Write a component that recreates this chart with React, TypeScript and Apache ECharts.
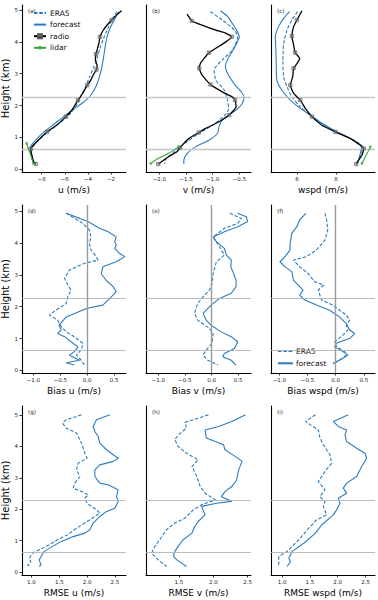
import React, { useEffect, useRef } from 'react';
import * as echarts from 'echarts';

// ---------------- DATA ----------------
const heightTicks = [0, 1, 2, 3, 4, 5];
const refHeights = [2.27, 0.64];

const uTicks = [-8, -6, -4, -2];
const vTicks = [-2.0, -1.5, -1.0, -0.5];
const wTicks = [6, 8];
const biasTicks = [-1.0, -0.5, 0.0, 0.5];
const rmseUTicks = [1.0, 1.5, 2.0, 2.5];
const rmseVTicks = [1.5, 2.0, 2.5];
const rmseWTicks = [1.0, 1.5, 2.0, 2.5];

// (a) u profiles  [value, height km]
const era5U = [[-1.5, 4.95], [-1.9, 4.7], [-2.3, 4.4], [-2.65, 4.1], [-2.95, 3.8], [-3.2, 3.5], [-3.5, 3.2], [-3.85, 2.9], [-4.2, 2.6], [-4.6, 2.3], [-5.0, 2.0], [-5.5, 1.75], [-6.1, 1.55], [-6.8, 1.35], [-7.6, 1.12], [-8.3, 0.9], [-8.75, 0.7], [-8.9, 0.55], [-8.85, 0.35], [-8.7, 0.16]];
const fcU = [[-1.35, 4.95], [-1.7, 4.7], [-2.05, 4.45], [-2.35, 4.15], [-2.5, 3.85], [-2.65, 3.5], [-2.8, 3.2], [-3.0, 2.9], [-3.3, 2.6], [-3.8, 2.3], [-4.5, 2.07], [-5.3, 1.87], [-6.1, 1.65], [-6.9, 1.42], [-7.8, 1.17], [-8.55, 0.9], [-8.95, 0.7], [-8.95, 0.5], [-8.8, 0.3], [-8.7, 0.16]];
const radioU = [[-1.08, 4.98], [-1.5, 4.85], [-1.94, 4.69], [-2.4, 4.5], [-2.7, 4.35], [-2.95, 4.16], [-3.05, 3.95], [-3.2, 3.75], [-3.3, 3.62], [-3.35, 3.45], [-3.2, 3.25], [-3.25, 3.13], [-3.5, 2.98], [-3.75, 2.8], [-4.05, 2.64], [-4.45, 2.38], [-4.85, 2.17], [-5.2, 1.96], [-5.55, 1.78], [-5.9, 1.65], [-6.7, 1.38], [-7.55, 1.17], [-8.3, 0.91], [-8.8, 0.72], [-8.95, 0.63], [-8.85, 0.45], [-8.7, 0.25], [-8.5, 0.16]];
const radioUMarks = [2, 5, 8, 11, 14, 16, 19, 21, 24, 27];
const lidarU = [[-9.3, 0.81], [-9.15, 0.65], [-9.0, 0.5], [-8.85, 0.33], [-8.7, 0.17]];

// (b) v profiles
const era5V = [[-1.04, 4.95], [-0.82, 4.69], [-0.59, 4.37], [-0.53, 4.16], [-0.63, 3.74], [-0.82, 3.43], [-0.97, 3.11], [-0.94, 2.8], [-0.78, 2.48], [-0.72, 2.17], [-0.7, 1.9], [-0.78, 1.68], [-1.0, 1.38], [-1.26, 1.12], [-1.48, 0.86], [-1.61, 0.7], [-1.75, 0.5], [-1.88, 0.3], [-1.9, 0.16]];
const fcV = [[-0.85, 4.98], [-0.72, 4.8], [-0.63, 4.58], [-0.55, 4.37], [-0.5, 4.16], [-0.55, 3.95], [-0.63, 3.7], [-0.72, 3.45], [-0.76, 3.22], [-0.7, 2.95], [-0.58, 2.65], [-0.45, 2.4], [-0.41, 2.25], [-0.45, 2.05], [-0.56, 1.86], [-0.72, 1.68], [-0.83, 1.52], [-0.88, 1.33], [-0.91, 1.12], [-1.07, 0.91], [-1.32, 0.7], [-1.48, 0.49], [-1.54, 0.28], [-1.54, 0.16]];
const radioV = [[-1.48, 4.87], [-1.39, 4.66], [-1.2, 4.53], [-0.94, 4.37], [-0.75, 4.27], [-0.64, 4.16], [-0.75, 4.0], [-0.94, 3.8], [-1.07, 3.66], [-1.16, 3.48], [-1.23, 3.32], [-1.25, 3.17], [-1.2, 2.96], [-1.04, 2.66], [-0.82, 2.43], [-0.63, 2.27], [-0.58, 2.17], [-0.56, 1.96], [-0.69, 1.7], [-0.88, 1.49], [-1.13, 1.28], [-1.26, 1.15], [-1.45, 0.96], [-1.54, 0.81], [-1.61, 0.68], [-1.67, 0.55], [-1.83, 0.39], [-1.96, 0.23], [-2.02, 0.16]];
const radioVMarks = [1, 5, 8, 11, 13, 16, 18, 21, 24, 28];
const lidarV = [[-1.64, 0.7], [-1.83, 0.49], [-2.02, 0.34], [-2.16, 0.18]];

// (c) wind speed profiles
const era5W = [[6.03, 4.95], [5.74, 4.69], [5.49, 4.37], [5.32, 3.95], [5.28, 3.43], [5.32, 2.9], [5.49, 2.59], [5.74, 2.27], [6.17, 1.96], [6.7, 1.68], [7.3, 1.42], [8.0, 1.18], [8.75, 0.96], [9.3, 0.72], [9.28, 0.5], [9.15, 0.3], [9.05, 0.17]];
const fcW = [[5.62, 4.95], [5.32, 4.74], [5.06, 4.48], [4.89, 4.16], [4.92, 3.74], [4.94, 3.22], [4.97, 2.8], [5.23, 2.48], [5.66, 2.17], [6.17, 1.91], [6.68, 1.7], [7.28, 1.44], [8.05, 1.17], [8.74, 0.96], [9.33, 0.7], [9.25, 0.49], [9.11, 0.18]];
const radioW = [[6.26, 4.98], [6.0, 4.69], [5.83, 4.48], [5.74, 4.18], [5.83, 3.9], [5.91, 3.66], [6.14, 3.48], [6.0, 3.32], [5.83, 3.17], [5.78, 2.9], [5.66, 2.64], [5.83, 2.38], [6.17, 2.17], [6.43, 1.91], [6.77, 1.65], [7.28, 1.38], [7.97, 1.17], [8.74, 0.96], [9.25, 0.75], [9.42, 0.65], [9.33, 0.44], [9.16, 0.28], [9.04, 0.16]];
const radioWMarks = [1, 3, 5, 8, 10, 12, 14, 16, 19, 22];
const lidarW = [[9.76, 0.7], [9.6, 0.5], [9.45, 0.33], [9.33, 0.18]];

// (d) bias u
const era5BiasU = [[-0.39, 4.93], [-0.08, 4.61], [0.04, 4.4], [0.07, 4.19], [0.04, 3.99], [0.07, 3.78], [0.17, 3.57], [0.2, 3.46], [-0.05, 3.36], [-0.33, 3.15], [-0.42, 2.89], [-0.36, 2.68], [-0.3, 2.52], [-0.36, 2.31], [-0.39, 2.1], [-0.58, 1.89], [-0.7, 1.74], [-0.55, 1.58], [-0.48, 1.37], [-0.39, 1.21], [-0.24, 1.06], [-0.08, 0.85], [-0.11, 0.64], [-0.2, 0.48], [-0.11, 0.32], [-0.05, 0.17]];
const fcBiasU = [[-0.39, 4.93], [-0.14, 4.77], [0.01, 4.67], [0.23, 4.46], [0.39, 4.35], [0.54, 4.19], [0.51, 4.04], [0.54, 3.93], [0.51, 3.83], [0.6, 3.67], [0.7, 3.57], [0.54, 3.41], [0.29, 3.25], [0.26, 3.04], [0.35, 2.83], [0.48, 2.63], [0.54, 2.47], [0.42, 2.26], [0.29, 2.05], [0.0, 1.95], [-0.39, 1.68], [-0.52, 1.42], [-0.48, 1.27], [-0.55, 1.16], [-0.42, 1.06], [-0.3, 0.9], [-0.17, 0.74], [-0.24, 0.59], [-0.33, 0.48], [-0.14, 0.32], [-0.39, 0.24], [-0.24, 0.17]];

// (e) bias v
const era5BiasV = [[0.34, 4.93], [0.56, 4.77], [0.49, 4.61], [0.24, 4.46], [0.03, 4.19], [0.15, 3.88], [0.24, 3.62], [0.09, 3.41], [0.03, 3.04], [0.01, 2.73], [-0.04, 2.52], [-0.16, 2.31], [-0.26, 2.1], [-0.32, 1.79], [-0.26, 1.58], [-0.04, 1.32], [0.03, 1.16], [0.01, 0.85], [-0.1, 0.64], [-0.16, 0.48], [-0.07, 0.32], [0.12, 0.17]];
const fcBiasV = [[0.49, 4.93], [0.65, 4.82], [0.68, 4.67], [0.49, 4.51], [0.24, 4.35], [0.03, 4.19], [0.09, 4.04], [0.24, 3.83], [0.28, 3.62], [0.37, 3.46], [0.36, 3.25], [0.4, 3.1], [0.46, 2.83], [0.46, 2.63], [0.37, 2.42], [0.15, 2.26], [-0.01, 2.05], [-0.16, 1.79], [-0.1, 1.58], [-0.01, 1.42], [0.18, 1.21], [0.37, 1.06], [0.49, 0.9], [0.43, 0.69], [0.24, 0.53], [0.21, 0.43], [0.37, 0.32], [0.46, 0.17]];

// (f) bias wspd
const era5BiasW = [[-0.19, 4.93], [-0.16, 4.72], [-0.14, 4.4], [-0.19, 4.09], [-0.34, 3.78], [-0.52, 3.57], [-0.75, 3.46], [-0.64, 3.25], [-0.49, 3.04], [-0.37, 2.78], [-0.21, 2.68], [-0.31, 2.52], [-0.25, 2.21], [-0.05, 2.05], [0.07, 1.89], [0.19, 1.74], [0.25, 1.58], [0.19, 1.42], [0.22, 1.27], [0.13, 1.11], [-0.02, 0.9], [0.02, 0.74], [0.16, 0.59], [0.19, 0.48], [0.07, 0.32], [-0.05, 0.2]];
const fcBiasW = [[-0.53, 4.93], [-0.64, 4.72], [-0.69, 4.51], [-0.78, 4.3], [-0.81, 3.99], [-0.81, 3.78], [-0.9, 3.57], [-0.99, 3.41], [-0.9, 3.25], [-0.78, 3.1], [-0.75, 2.83], [-0.64, 2.63], [-0.58, 2.52], [-0.64, 2.36], [-0.55, 2.21], [-0.34, 2.05], [-0.11, 1.89], [0.07, 1.68], [0.19, 1.47], [0.25, 1.27], [0.34, 1.16], [0.25, 1.0], [0.01, 0.85], [-0.02, 0.74], [0.13, 0.59], [0.22, 0.48], [0.13, 0.38], [-0.05, 0.22]];

// (g) RMSE u
const era5RmseU = [[1.9, 5.0], [1.62, 4.84], [1.56, 4.74], [1.62, 4.58], [1.81, 4.42], [1.9, 4.1], [1.96, 3.78], [2.0, 3.62], [1.84, 3.46], [1.81, 3.25], [1.87, 3.04], [1.78, 2.83], [1.75, 2.67], [1.9, 2.56], [2.02, 2.46], [1.96, 2.35], [2.0, 2.19], [2.17, 1.98], [2.23, 1.88], [2.14, 1.77], [2.0, 1.61], [1.81, 1.4], [1.65, 1.19], [1.47, 1.03], [1.32, 0.87], [1.14, 0.71], [1.02, 0.6], [0.96, 0.44], [0.99, 0.34], [0.93, 0.23], [0.99, 0.18]];
const fcRmseU = [[2.41, 5.0], [2.17, 4.84], [2.11, 4.63], [2.14, 4.47], [2.2, 4.31], [2.23, 4.1], [2.35, 3.89], [2.47, 3.73], [2.56, 3.62], [2.47, 3.52], [2.23, 3.41], [2.14, 3.25], [2.14, 3.04], [2.23, 2.83], [2.38, 2.78], [2.56, 2.62], [2.53, 2.4], [2.56, 2.25], [2.5, 2.03], [2.35, 1.93], [2.23, 1.77], [2.11, 1.56], [2.05, 1.35], [1.96, 1.24], [1.75, 1.13], [1.53, 0.97], [1.38, 0.82], [1.23, 0.66], [1.17, 0.5], [1.14, 0.39], [1.17, 0.23], [1.14, 0.18]];

// (h) RMSE v
const era5RmseV = [[1.93, 5.0], [1.59, 4.76], [1.61, 4.58], [1.49, 4.36], [1.44, 4.21], [1.49, 3.99], [1.61, 3.78], [1.78, 3.57], [1.69, 3.36], [1.76, 3.04], [1.81, 2.72], [1.88, 2.51], [2.03, 2.3], [1.83, 2.14], [1.71, 1.98], [1.59, 1.72], [1.44, 1.56], [1.32, 1.35], [1.22, 1.03], [1.15, 0.82], [1.1, 0.6], [1.2, 0.39], [1.32, 0.18]];
const fcRmseV = [[2.47, 5.0], [2.27, 4.79], [2.08, 4.63], [1.88, 4.52], [1.9, 4.26], [2.03, 4.15], [2.15, 4.05], [2.17, 3.89], [2.32, 3.68], [2.42, 3.52], [2.37, 3.25], [2.34, 2.93], [2.27, 2.72], [2.17, 2.56], [2.12, 2.4], [2.22, 2.3], [2.27, 2.25], [2.05, 2.19], [1.83, 2.09], [1.88, 1.82], [1.78, 1.61], [1.73, 1.45], [1.69, 1.24], [1.56, 1.03], [1.49, 0.82], [1.44, 0.66], [1.42, 0.5], [1.47, 0.39], [1.61, 0.18]];

// (i) RMSE wspd
const era5RmseW = [[1.6, 5.0], [1.42, 4.79], [1.51, 4.68], [1.65, 4.52], [1.68, 4.26], [1.74, 4.05], [1.86, 3.73], [1.89, 3.46], [1.77, 3.2], [1.65, 2.88], [1.77, 2.62], [1.68, 2.4], [1.77, 2.25], [1.74, 2.09], [1.8, 1.82], [1.62, 1.66], [1.48, 1.4], [1.3, 1.03], [1.09, 0.66], [0.94, 0.5], [0.94, 0.29], [0.94, 0.18]];
const fcRmseW = [[2.19, 5.0], [1.92, 4.79], [2.01, 4.63], [2.16, 4.52], [2.13, 4.36], [2.16, 4.15], [2.34, 3.94], [2.49, 3.78], [2.52, 3.62], [2.43, 3.36], [2.34, 3.04], [2.16, 2.83], [2.1, 2.67], [2.16, 2.51], [2.01, 2.35], [2.04, 2.19], [1.98, 1.98], [1.92, 1.82], [1.71, 1.5], [1.6, 1.24], [1.39, 0.92], [1.18, 0.66], [1.12, 0.44], [1.15, 0.34], [1.09, 0.18]];

// ---------------- LAYOUT / STYLE ----------------
const BLUE = '#2b7cbf';
const GREEN = '#3ca53c';
const FONT = 'DejaVu Sans';
const cols = [
  { left: 22, width: 104 },
  { left: 146, width: 105 },
  { left: 271, width: 104 },
];
const rows = [
  { top: 5, height: 167, ymin: -0.09, ymax: 5.16 },
  { top: 205, height: 168, ymin: -0.08, ymax: 5.19 },
  { top: 406, height: 169, ymin: -0.09, ymax: 5.28 },
];

type Panel = {
  label: string; row: number; col: number; title: string;
  xmin: number; xmax: number; ticks: number[]; dec: number;
  era5: number[][]; fc: number[][];
  radio?: number[][]; marks?: number[]; lidar?: number[][];
};

const panels: Panel[] = [
  { label: '(a)', row: 0, col: 0, title: 'u (m/s)', xmin: -9.7, xmax: -0.7, ticks: uTicks, dec: 0, era5: era5U, fc: fcU, radio: radioU, marks: radioUMarks, lidar: lidarU },
  { label: '(b)', row: 0, col: 1, title: 'v (m/s)', xmin: -2.25, xmax: -0.28, ticks: vTicks, dec: 1, era5: era5V, fc: fcV, radio: radioV, marks: radioVMarks, lidar: lidarV },
  { label: '(c)', row: 0, col: 2, title: 'wspd (m/s)', xmin: 4.67, xmax: 10.0, ticks: wTicks, dec: 0, era5: era5W, fc: fcW, radio: radioW, marks: radioWMarks, lidar: lidarW },
  { label: '(d)', row: 1, col: 0, title: 'Bias u (m/s)', xmin: -1.21, xmax: 0.72, ticks: biasTicks, dec: 1, era5: era5BiasU, fc: fcBiasU },
  { label: '(e)', row: 1, col: 1, title: 'Bias v (m/s)', xmin: -1.23, xmax: 0.74, ticks: biasTicks, dec: 1, era5: era5BiasV, fc: fcBiasV },
  { label: '(f)', row: 1, col: 2, title: 'Bias wspd (m/s)', xmin: -1.15, xmax: 0.7, ticks: biasTicks, dec: 1, era5: era5BiasW, fc: fcBiasW },
  { label: '(g)', row: 2, col: 0, title: 'RMSE u (m/s)', xmin: 0.83, xmax: 2.7, ticks: rmseUTicks, dec: 1, era5: era5RmseU, fc: fcRmseU },
  { label: '(h)', row: 2, col: 1, title: 'RMSE v (m/s)', xmin: 1.02, xmax: 2.55, ticks: rmseVTicks, dec: 1, era5: era5RmseV, fc: fcRmseV },
  { label: '(i)', row: 2, col: 2, title: 'RMSE wspd (m/s)', xmin: 0.8, xmax: 2.67, ticks: rmseWTicks, dec: 1, era5: era5RmseW, fc: fcRmseW },
];

const fmt = (v: number, dec: number) => v.toFixed(dec).replace('-', '\u2212');

function buildOption() {
  const grid: any[] = [];
  const xAxis: any[] = [];
  const yAxis: any[] = [];
  const series: any[] = [];
  const graphic: any[] = [];

  panels.forEach((p, i) => {
    const c = cols[p.col];
    const r = rows[p.row];
    grid.push({ left: c.left, top: r.top, width: c.width, height: r.height, containLabel: false, outerBoundsMode: 'none' });
    xAxis.push({
      type: 'value', gridIndex: i, min: p.xmin, max: p.xmax, position: 'bottom',
      name: p.title, nameLocation: 'middle', nameGap: 13,
      nameTextStyle: { fontSize: 9, color: '#000', fontFamily: FONT },
      axisLine: { show: true, onZero: false, lineStyle: { color: '#000', width: 1.1 } },
      axisTick: { show: true, length: 2.5, lineStyle: { color: '#000', width: 0.8 }, customValues: p.ticks },
      axisLabel: { show: true, fontSize: 5.5, color: '#222', fontFamily: FONT, margin: 4, customValues: p.ticks, formatter: (v: number) => fmt(v, p.dec) },
      splitLine: { show: false },
    });
    const leftCol = p.col === 0;
    yAxis.push({
      type: 'value', gridIndex: i, min: r.ymin, max: r.ymax, position: 'left',
      name: leftCol ? 'Height (km)' : '', nameLocation: 'middle', nameGap: 10,
      nameTextStyle: { fontSize: 10, color: '#000', fontFamily: FONT },
      axisLine: { show: true, onZero: false, lineStyle: { color: '#000', width: 1.1 } },
      axisTick: { show: leftCol, length: 2.5, lineStyle: { color: '#000', width: 0.8 }, customValues: heightTicks },
      axisLabel: { show: leftCol, fontSize: 5.5, color: '#222', fontFamily: FONT, margin: 4, customValues: heightTicks, formatter: (v: number) => String(v) },
      splitLine: { show: false },
    });

    const refColor = p.row === 0 ? '#c6c6c6' : '#b4b4b4';
    const refWidth = p.row === 0 ? 1.4 : 0.9;
    const mlData: any[] = refHeights.map((h) => ({ yAxis: h }));
    if (p.row === 1) mlData.push({ xAxis: 0, lineStyle: { color: '#9a9a9a', width: 1.4, type: 'solid' } });

    const smooth = p.row === 0 ? 0.25 : false;
    series.push({
      type: 'line', name: 'ERA5', xAxisIndex: i, yAxisIndex: i, data: p.era5,
      symbol: 'none', smooth, z: 3, silent: true,
      lineStyle: { color: BLUE, width: 1.1, type: [3.5, 1.8] }, itemStyle: { color: BLUE },
      markLine: {
        silent: true, symbol: ['none', 'none'], label: { show: false }, animation: false,
        emphasis: { disabled: true },
        lineStyle: { color: refColor, width: refWidth, type: 'solid' }, data: mlData,
      },
    });
    series.push({
      type: 'line', name: 'forecast', xAxisIndex: i, yAxisIndex: i, data: p.fc,
      symbol: 'none', smooth, z: 4, silent: true,
      lineStyle: { color: BLUE, width: 1.1, type: 'solid' }, itemStyle: { color: BLUE },
    });
    if (p.radio) {
      const marks = p.marks || [];
      series.push({
        type: 'line', name: 'radio', xAxisIndex: i, yAxisIndex: i, data: p.radio,
        symbol: 'rect', showSymbol: true, smooth: 0.15, z: 5, silent: true,
        symbolSize: (_v: any, params: any) => (marks.includes(params.dataIndex) ? 3.5 : 0),
        lineStyle: { color: '#000', width: 1.3 },
        itemStyle: { color: 'rgba(130,130,130,0.6)', borderColor: '#555', borderWidth: 0.5 },
      });
    }
    if (p.lidar) {
      const last = p.lidar.length - 1;
      series.push({
        type: 'line', name: 'lidar', xAxisIndex: i, yAxisIndex: i, data: p.lidar,
        symbol: 'circle', showSymbol: true, smooth: 0.2, z: 6, silent: true,
        symbolSize: (_v: any, params: any) => (params.dataIndex === 0 || params.dataIndex === last ? 3 : 0),
        lineStyle: { color: GREEN, width: 1.1 },
        itemStyle: { color: 'rgba(60,165,60,0.7)' },
      });
    }

    graphic.push({
      type: 'text', left: c.left + 6, top: r.top + 3, silent: true,
      style: { text: p.label, fontSize: 5.5, fill: '#222', fontFamily: FONT },
    });
  });

  const hidden = { opacity: 0 };
  return {
    animation: false,
    backgroundColor: '#fff',
    textStyle: { fontFamily: FONT },
    grid, xAxis, yAxis, series, graphic,
    legend: [
      {
        data: [
          { name: 'ERA5', itemStyle: hidden },
          { name: 'forecast', itemStyle: hidden },
          { name: 'radio' },
          { name: 'lidar' },
        ],
        orient: 'vertical', left: 33, top: 9,
        itemWidth: 12, itemHeight: 5, itemGap: 3.6, padding: 0, selectedMode: false,
        textStyle: { fontSize: 7.5, color: '#111', fontFamily: FONT, padding: [0, 0, 0, -1] },
      },
      {
        data: [
          { name: 'ERA5', itemStyle: hidden },
          { name: 'forecast', itemStyle: hidden },
        ],
        orient: 'vertical', left: 277, top: 347,
        itemWidth: 15, itemHeight: 5, itemGap: 4.3, padding: 0, selectedMode: false,
        textStyle: { fontSize: 7.5, color: '#111', fontFamily: FONT, padding: [0, 0, 0, -2] },
      },
    ],
  };
}

export default function App() {
  const ref = useRef<HTMLDivElement>(null);
  useEffect(() => {
    if (!ref.current) return;
    const chart = echarts.init(ref.current, undefined, { renderer: 'svg' });
    chart.setOption(buildOption() as any);
    return () => chart.dispose();
  }, []);
  return <div ref={ref} style={{ position: 'fixed', left: 0, top: 0, width: 378, height: 600, background: '#fff' }} />;
}
